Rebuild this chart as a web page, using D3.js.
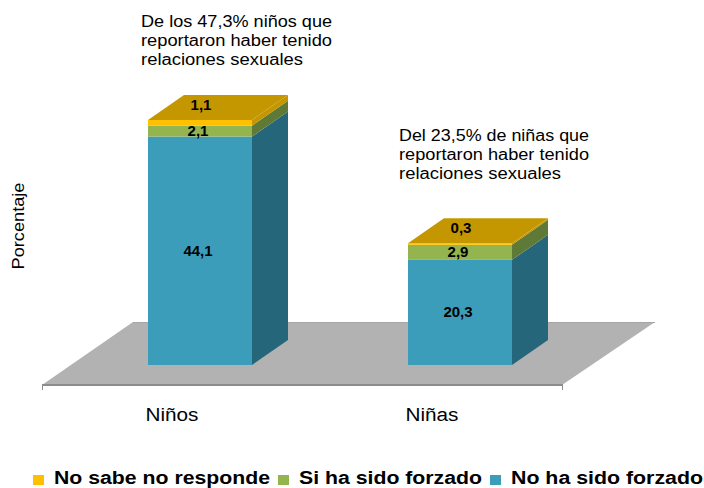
<!DOCTYPE html>
<html><head><meta charset="utf-8">
<script src="https://cdnjs.cloudflare.com/ajax/libs/d3/7.8.5/d3.min.js"></script>
<style>html,body{margin:0;padding:0;background:#fff}svg{display:block}text{font-family:"Liberation Sans",Arial,sans-serif;fill:#000}</style>
</head><body><svg id="c" width="704" height="488"></svg>
<script>
const categories = ["Niños","Niñas"];
const seriesNames = ["No ha sido forzado","Si ha sido forzado","No sabe no responde"];
const noForzado = [44.1,20.3];
const siForzado = [2.1,2.9];
const noSabe = [1.1,0.3];
const valueLabels = [["44,1","20,3"],["2,1","2,9"],["1,1","0,3"]];
const front = ["#3b9dba","#93b44e","#ffc000"];
const side = ["#26667a","#5f7a36","#c49600"];
const notes = [
  ["De los 47,3% niños que","reportaron haber tenido","relaciones sexuales"],
  ["Del 23,5% de niñas que","reportaron haber tenido","relaciones sexuales"]];
const legendOrder = [2,1,0];

const svg = d3.select("#c");
const x = d3.scaleBand().domain(categories).range([42,562]).paddingInner(0.6).paddingOuter(0.3);
const y = d3.scaleLinear().domain([0,50]).range([365,106]);
const barShift = 28, depth = {dx:36,dy:-25};
const poly = p => "M"+p.map(a=>a.join(",")).join("L")+"Z";
const stretch = (t,len) => t.attr("textLength",len).attr("lengthAdjust","spacingAndGlyphs");

// floor
svg.append("path").attr("fill","#b2b2b2").attr("d",poly([[42,385],[562,385],[655,322],[133,322]]));
svg.append("line").attr("x1",133).attr("x2",655).attr("y1",322.5).attr("y2",322.5).attr("stroke","#a6a6a6");
svg.append("line").attr("x1",42).attr("x2",563).attr("y1",385).attr("y2",385).attr("stroke","#8c8c8c").attr("stroke-width",2);
svg.selectAll("line.t").data([42.5,562.5]).join("line").attr("class","t")
  .attr("x1",d=>d).attr("x2",d=>d).attr("y1",384).attr("y2",390).attr("stroke","#8c8c8c");

// axis category labels
svg.selectAll("text.cat").data(categories).join("text").attr("class","cat")
  .attr("x",d=>x(d)+x.bandwidth()/2).attr("y",421).attr("text-anchor","middle")
  .attr("font-size",18).call(stretch,53).text(d=>d);

// bars
const series = [noForzado,siForzado,noSabe];
categories.forEach((c,i)=>{
  const x0 = x(c)+barShift, x1 = x0+x.bandwidth();
  let cum = 0;
  series.forEach((s,k)=>{
    const yb = y(cum), yt = y(cum+s[i]);
    cum += s[i];
    svg.append("rect").attr("x",x0).attr("y",yt).attr("width",x1-x0).attr("height",yb-yt).attr("fill",front[k]);
    svg.append("path").attr("fill",side[k]).attr("d",poly([
      [x1,yb],[x1+depth.dx,yb+depth.dy],[x1+depth.dx,yt+depth.dy],[x1,yt]]));
    const last = k===series.length-1;
    if(last){
      svg.append("path").attr("fill",side[k]).attr("d",poly([
        [x0,yt],[x1,yt],[x1+depth.dx,yt+depth.dy],[x0+depth.dx,yt+depth.dy]]));
    }
    svg.append("text").attr("x",(x0+x1)/2+(last?1:-2)).attr("y",(last?yt-15:(yb+yt)/2)+5)
      .attr("text-anchor","middle").attr("font-size",15).attr("font-weight","bold")
      .text(valueLabels[k][i]);
  });
});

// notes
const noteX=[141,399], noteY=[26.7,140.7], noteLen=[[191,191,162],[190,190,162]];
notes.forEach((n,i)=>n.forEach((t,j)=>svg.append("text").attr("x",noteX[i]).attr("y",noteY[i]+j*19.2)
  .attr("font-size",16).call(stretch,noteLen[i][j]).text(t)));

// y title
svg.append("text").attr("transform","translate(23.5,226) rotate(-90)").attr("text-anchor","middle")
  .attr("font-size",17).call(stretch,87).text("Porcentaje");

// legend
const legX=[33,278,490], legTx=[54,299,511], legLen=[216,183,192];
legendOrder.forEach((k,i)=>{
  svg.append("rect").attr("x",legX[i]).attr("y",475).attr("width",11).attr("height",10).attr("fill",front[k]);
  svg.append("text").attr("x",legTx[i]).attr("y",484).attr("font-size",18).attr("font-weight","bold")
    .call(stretch,legLen[i]).text(seriesNames[k]);
});
</script></body></html>
